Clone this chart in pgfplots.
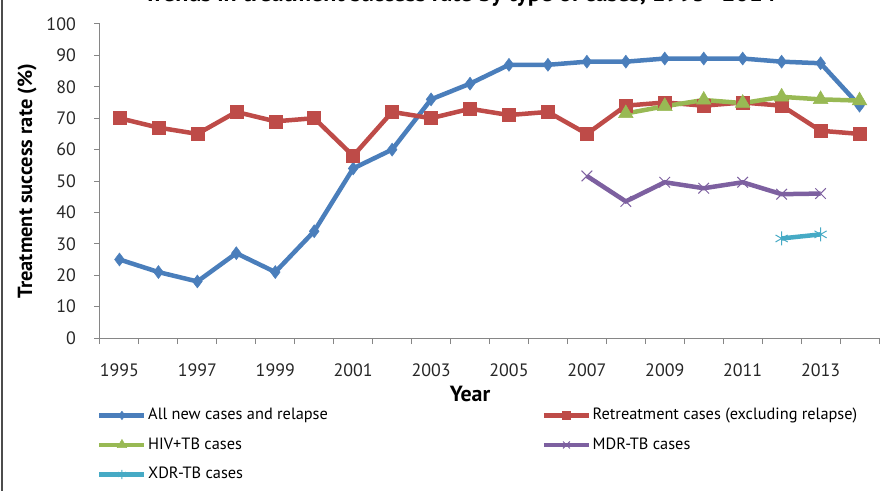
\documentclass[border=0pt]{standalone}
\usepackage{fontspec}
\setmainfont{PT Sans}
\usepackage{pgfplots}
\pgfplotsset{compat=1.18}
\definecolor{cblue}{RGB}{74,126,187}
\definecolor{cred}{RGB}{190,75,72}
\definecolor{cgreen}{RGB}{152,185,84}
\definecolor{cpurple}{RGB}{125,96,160}
\definecolor{ccyan}{RGB}{70,170,197}
\definecolor{axisgray}{RGB}{134,134,134}
\begin{document}
\begin{tikzpicture}[x=1bp,y=1bp]
\useasboundingbox (-100bp,-153bp) rectangle (794bp,338bp);
\draw[line width=1.5bp, black!70] (-98bp,-153bp) -- (-98bp,338bp);
\begin{axis}[
  at={(0,0)}, anchor=south west,
  scale only axis, width=779bp, height=314bp,
  xmin=1994.5, xmax=2014.5, ymin=0, ymax=100,
  axis x line*=bottom, axis y line*=left,
  axis line style={draw=axisgray, line width=1bp, -},
  xtick={1995,1997,...,2013},
  minor xtick={1994.5,1995.5,...,2014.5},
  ytick={0,10,...,100},
  major x tick style={draw=none},
  minor x tick style={draw=axisgray, line width=1bp},
  major y tick style={draw=axisgray, line width=1bp},
  tick align=outside, major tick length=6bp, minor tick length=6bp,
  /pgf/number format/1000 sep={},
  /pgf/number format/assume math mode=true,
  tick label style={font=\fontsize{18}{21}\selectfont, text=black!85},
  yticklabel style={anchor=east, inner sep=0pt, xshift=-18bp},
  xticklabel style={anchor=base, inner sep=0pt, yshift=-32bp},
  title={Trends in treatment success rate by type of cases, 1995--2014},
  title style={at={(axis description cs:0.462,1)}, anchor=base, yshift=17bp, font=\fontsize{24}{28}\selectfont\bfseries},
  xlabel={Year},
  xlabel style={at={(axis description cs:0.475,0)}, anchor=base, yshift=-63bp, font=\fontsize{22}{26}\selectfont\bfseries},
  ylabel={Treatment success rate (\%)},
  ylabel style={at={(axis description cs:-0.0937,0.5)}, anchor=center, font=\fontsize{20.5}{24}\selectfont\bfseries},
  legend columns=2,
  legend cell align=left,
  legend image code/.code={\draw[mark repeat=2,mark phase=2, every mark/.append style={scale=0.65}] plot coordinates {(0bp,0bp)(22.5bp,0bp)(45bp,0bp)};},
  legend style={at={(axis description cs:-0.00385,0)}, anchor=north west, yshift=-68bp,
    draw=none, fill=none, inner sep=0pt, row sep=11bp, column sep=0bp,
    font=\fontsize{16.4}{19}\selectfont,
    nodes={inner sep=1.5bp, text height=12bp, text depth=3.5bp}},
  every axis plot/.append style={line width=4.5bp},
]
\addplot[cblue, mark=diamond*, mark size=6.5bp, mark options={line width=0.5bp}] coordinates {
(1995,25)(1996,21)(1997,18)(1998,27)(1999,21)(2000,34)(2001,54)(2002,60)(2003,76)(2004,81)
(2005,87)(2006,87)(2007,88)(2008,88)(2009,89)(2010,89)(2011,89)(2012,88)(2013,87.5)(2014,74)};
\addlegendentry{\makebox[392bp][l]{All new cases and relapse}}
\addplot[cred, mark=square*, mark size=6.5bp, mark options={line width=0.5bp}] coordinates {
(1995,70)(1996,67)(1997,65)(1998,72)(1999,69)(2000,70)(2001,58)(2002,72)(2003,70)(2004,73)
(2005,71)(2006,72)(2007,65)(2008,74)(2009,75)(2010,74)(2011,75)(2012,74)(2013,66)(2014,65)};
\addlegendentry{Retreatment cases (excluding relapse)}
\addplot[cgreen, mark=triangle*, mark size=8.5bp, mark options={line width=0.5bp}] coordinates {
(2008,71.5)(2009,73.8)(2010,75.8)(2011,74.8)(2012,76.8)(2013,76)(2014,75.6)};
\addlegendentry{\makebox[392bp][l]{HIV+TB cases}}
\addplot[cpurple, mark=x, mark size=7.5bp, mark options={line width=1bp}] coordinates {
(2007,51.6)(2008,43.5)(2009,49.6)(2010,47.7)(2011,49.6)(2012,45.8)(2013,46)};
\addlegendentry{MDR-TB cases}
\addplot[ccyan, mark=asterisk, mark size=7bp, mark options={line width=1bp}] coordinates {
(2012,31.7)(2013,33)};
\addlegendentry{\makebox[392bp][l]{XDR-TB cases}}
\end{axis}
\end{tikzpicture}
\end{document}
